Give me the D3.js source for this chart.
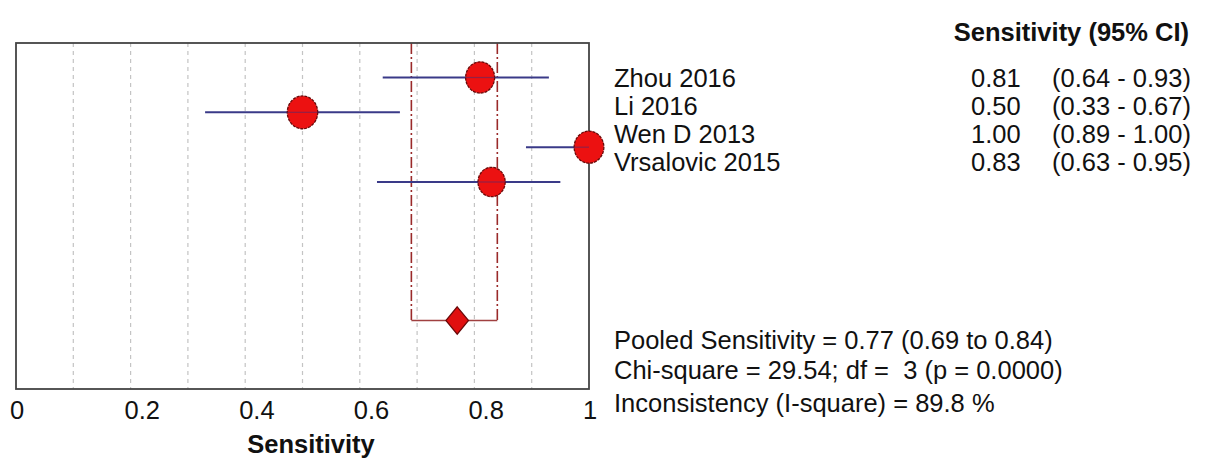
<!DOCTYPE html>
<html>
<head>
<meta charset="utf-8">
<script src="https://cdn.jsdelivr.net/npm/d3@7"></script>
<style>
  html, body { margin: 0; padding: 0; background: #fff; }
  svg { display: block; }
  text { font-family: "Liberation Sans", Arial, sans-serif; fill: #111; }
</style>
</head>
<body>
<svg id="chart" width="1206" height="461"></svg>
<script>
// ---- data ----
const studies = ["Zhou 2016", "Li 2016", "Wen D 2013", "Vrsalovic 2015"];
const sensitivity = [0.81, 0.50, 1.00, 0.83];
const ciLow = [0.64, 0.33, 0.89, 0.63];
const ciHigh = [0.93, 0.67, 1.00, 0.95];
const studyWeight = [1.0, 1.1, 1.05, 0.88];
const pooled = { est: 0.77, lo: 0.69, hi: 0.84 };
const xTicks = [0, 0.2, 0.4, 0.6, 0.8, 1];
const gridTicks = [0.1, 0.2, 0.3, 0.4, 0.5, 0.6, 0.7, 0.8, 0.9];
const tableTitle = "Sensitivity (95% CI)";
const statsLines = [
  "Pooled Sensitivity = 0.77 (0.69 to 0.84)",
  "Chi-square = 29.54; df =  3 (p = 0.0000)",
  "Inconsistency (I-square) = 89.8 %"
];
const axisTitle = "Sensitivity";

// ---- layout ----
const svg = d3.select("#chart");
const box = { left: 16, right: 589, top: 43, bottom: 389 };
const x = d3.scaleLinear().domain([0, 1]).range([box.left, box.right]);
const rowY = d3.scalePoint().domain(d3.range(4)).range([77.5, 182]);
const textY = d3.scalePoint().domain(d3.range(4)).range([86.5, 171]);
const pooledY = 320.5;
const rScale = d3.scaleSqrt().domain([0, 1]).range([0, 14.5]);
const fs = 25.5;

// gridlines
svg.append("g").selectAll("line").data(gridTicks).join("line")
  .attr("x1", d => x(d)).attr("x2", d => x(d))
  .attr("y1", box.top).attr("y2", box.bottom)
  .attr("stroke", "#c4c4c4").attr("stroke-width", 1.2)
  .attr("stroke-dasharray", "4,4");

// pooled CI vertical lines (dash-dot)
svg.append("g").selectAll("line").data([pooled.lo, pooled.hi]).join("line")
  .attr("x1", d => x(d)).attr("x2", d => x(d))
  .attr("y1", box.top).attr("y2", pooledY)
  .attr("stroke", "#9a2a2a").attr("stroke-width", 1.6)
  .attr("stroke-dasharray", "11,3,2,3");

// pooled horizontal line
svg.append("line")
  .attr("x1", x(pooled.lo)).attr("x2", x(pooled.hi))
  .attr("y1", pooledY).attr("y2", pooledY)
  .attr("stroke", "#a04040").attr("stroke-width", 1.6);

// box
svg.append("rect")
  .attr("x", box.left).attr("y", box.top)
  .attr("width", box.right - box.left).attr("height", box.bottom - box.top)
  .attr("fill", "none").attr("stroke", "#444").attr("stroke-width", 1.8);

// CI lines
svg.append("g").selectAll("line").data(studies).join("line")
  .attr("x1", (d, i) => x(ciLow[i])).attr("x2", (d, i) => x(ciHigh[i]))
  .attr("y1", (d, i) => rowY(i)).attr("y2", (d, i) => rowY(i))
  .attr("stroke", "#3a3a88").attr("stroke-width", 2);

// study points
svg.append("g").selectAll("ellipse").data(studies).join("ellipse")
  .attr("cx", (d, i) => x(sensitivity[i]))
  .attr("cy", (d, i) => rowY(i))
  .attr("rx", (d, i) => rScale(studyWeight[i]))
  .attr("ry", (d, i) => rScale(studyWeight[i]) * 1.08)
  .attr("fill", "#ec1111").attr("stroke", "#6a0a0a").attr("stroke-width", 1.3)
  .attr("stroke-dasharray", "3,1");

// CI line through points (drawn over)
svg.append("g").selectAll("line").data(studies).join("line")
  .attr("x1", (d, i) => x(sensitivity[i]) - rScale(studyWeight[i]))
  .attr("x2", (d, i) => Math.min(x(sensitivity[i]) + rScale(studyWeight[i]), x(ciHigh[i])))
  .attr("y1", (d, i) => rowY(i)).attr("y2", (d, i) => rowY(i))
  .attr("stroke", "#5a2a6a").attr("stroke-width", 1.2).attr("opacity", 0.6);

// pooled diamond
const dw = 11.3, dh = 13.7, dx0 = x(pooled.est);
svg.append("path")
  .attr("d", `M${dx0},${pooledY - dh} L${dx0 + dw},${pooledY} L${dx0},${pooledY + dh} L${dx0 - dw},${pooledY} Z`)
  .attr("fill", "#e01010").attr("stroke", "#6a0a0a").attr("stroke-width", 1.2);

// x tick labels
svg.append("g").selectAll("text").data(xTicks).join("text")
  .attr("x", d => x(d) - 6).attr("y", 419)
  .attr("font-size", fs)
  .text(d => d3.format("~g")(d));

// axis title
svg.append("text")
  .attr("x", 311).attr("y", 453)
  .attr("text-anchor", "middle")
  .attr("font-size", fs).attr("font-weight", "bold")
  .text(axisTitle);

// table title
svg.append("text")
  .attr("x", 1189).attr("y", 41)
  .attr("text-anchor", "end")
  .attr("font-size", fs).attr("font-weight", "bold")
  .text(tableTitle);

// study names
svg.append("g").selectAll("text").data(studies).join("text")
  .attr("x", 614).attr("y", (d, i) => textY(i))
  .attr("font-size", fs).text(d => d);

// values
svg.append("g").selectAll("text").data(studies).join("text")
  .attr("x", 971).attr("y", (d, i) => textY(i))
  .attr("font-size", fs).text((d, i) => sensitivity[i].toFixed(2));

svg.append("g").selectAll("text").data(studies).join("text")
  .attr("x", 1052).attr("y", (d, i) => textY(i))
  .attr("font-size", fs).attr("xml:space", "preserve")
  .text((d, i) => `(${ciLow[i].toFixed(2)} - ${ciHigh[i].toFixed(2)})`);

// stats
svg.append("g").selectAll("text").data(statsLines).join("text")
  .attr("x", 614).attr("y", (d, i) => [348.5, 379, 412][i])
  .attr("font-size", fs).style("white-space", "pre")
  .text(d => d);
</script>
</body>
</html>
